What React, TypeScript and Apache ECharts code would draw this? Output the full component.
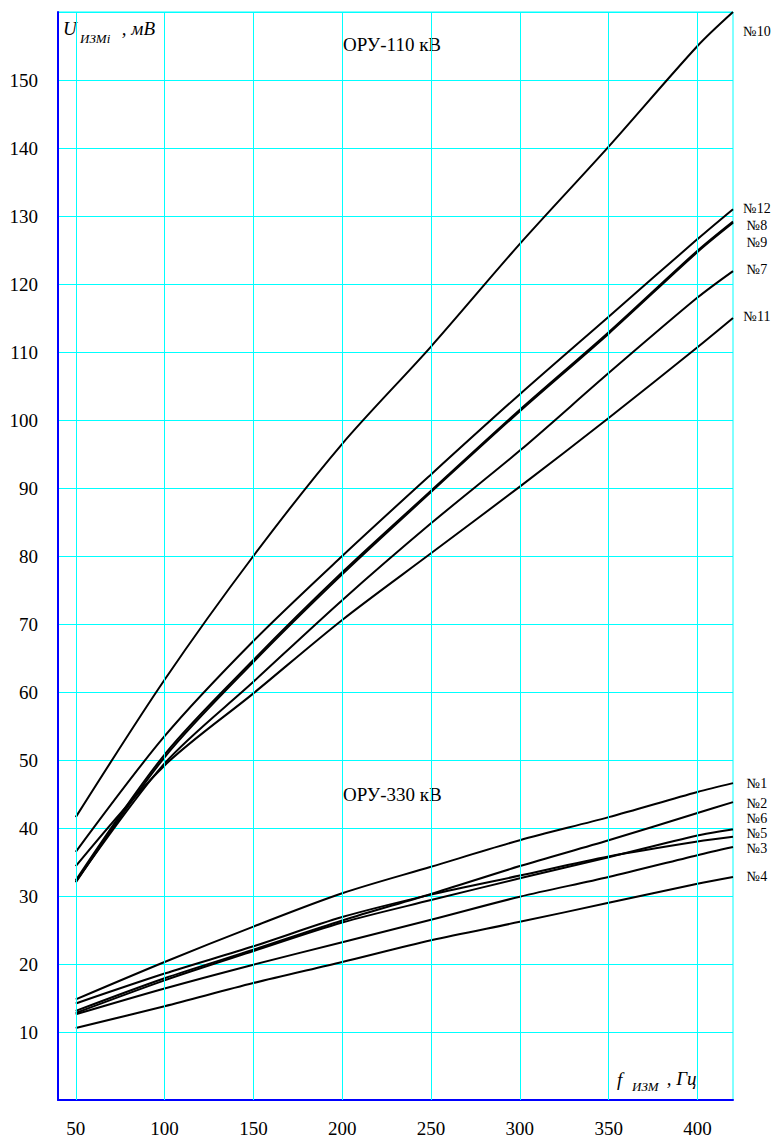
import React, { useEffect, useRef } from "react";
import * as echarts from "echarts";

// Frequency points (Hz)
const freq = [50, 100, 150, 200, 250, 300, 350, 400, 420];

// ОРУ-110 кВ curves (mV)
const u10 = [41.6, 61.8, 80.0, 96.5, 110.8, 125.9, 140.2, 155.0, 160.0];
const u12 = [36.5, 53.5, 67.5, 80.0, 92.0, 103.8, 115.2, 126.6, 131.0];
const u8 = [32.3, 50.8, 64.7, 77.6, 89.6, 101.5, 112.9, 124.9, 129.2];
const u9 = [32.0, 50.4, 64.4, 77.3, 89.4, 101.3, 112.7, 124.7, 129.0];
const u7 = [32.1, 49.5, 61.5, 73.5, 84.8, 95.5, 106.9, 118.0, 121.9];
const u11 = [34.4, 49.2, 59.8, 70.6, 80.4, 90.2, 100.3, 110.7, 115.0];

// ОРУ-330 кВ curves (mV)
const u1 = [14.8, 20.3, 25.5, 30.4, 34.3, 38.2, 41.6, 45.3, 46.6];
const u2 = [13.1, 17.9, 22.1, 26.4, 30.3, 34.4, 38.2, 42.2, 43.8];
const u5 = [14.2, 18.6, 22.6, 26.9, 30.2, 33.0, 35.8, 38.0, 38.7];
const u6 = [12.8, 17.6, 21.9, 26.1, 29.4, 32.6, 35.7, 38.9, 39.8];
const u3 = [12.6, 16.4, 19.9, 23.2, 26.5, 29.9, 32.8, 36.0, 37.2];
const u4 = [10.6, 13.8, 17.2, 20.3, 23.5, 26.2, 29.0, 31.8, 32.8];

const curveNames = ["№10", "№12", "№8", "№9", "№7", "№11", "№1", "№2", "№5", "№6", "№3", "№4"];
const curveValues = [u10, u12, u8, u9, u7, u11, u1, u2, u5, u6, u3, u4];

// Axis tick labels
const xTickLabels = [50, 100, 150, 200, 250, 300, 350, 400];
const yTickLabels = [10, 20, 30, 40, 50, 60, 70, 80, 90, 100, 110, 120, 130, 140, 150];

// Right-side curve labels (label text, vertical pixel position)
const endLabels = ["№10", "№12", "№8", "№9", "№7", "№11", "№1", "№2", "№6", "№5", "№3", "№4"];
const endLabelY = [31, 208, 225, 242, 269, 316, 783, 803, 818, 833, 848, 876];

const SERIF = "Liberation Serif";

export default function App() {
  const ref = useRef<HTMLDivElement>(null);

  useEffect(() => {
    const chart = echarts.init(ref.current!, null, { renderer: "svg" });

    const lineSeries = curveNames.map((name, k) => ({
      name,
      type: "line",
      data: freq.map((f, i) => [f, curveValues[k][i]]),
      showSymbol: false,
      symbol: "none",
      smooth: 0.3,
      lineStyle: { color: "#000", width: 2 },
      emphasis: { disabled: true },
      silent: true,
      z: 3,
    }));

    const gridSeries = {
      name: "vgrid",
      type: "line",
      data: [],
      silent: true,
      z: 1,
      markLine: {
        silent: true,
        symbol: ["none", "none"],
        label: { show: false },
        lineStyle: { color: "#00ffff", width: 1, type: "solid" },
        emphasis: { disabled: true },
        data: xTickLabels.map((v) => ({ xAxis: v })),
      },
    };

    const txt = (x: number, y: number, text: string, size: number, italic: boolean, align = "left") => ({
      type: "text",
      x,
      y,
      silent: true,
      style: {
        text,
        fontFamily: SERIF,
        fontSize: size,
        fontStyle: italic ? "italic" : "normal",
        fill: "#000",
        align,
        verticalAlign: "middle",
      },
    });

    const graphics: any[] = [
      // Y axis title
      txt(63, 28, "U", 19, true),
      txt(80, 38, "ИЗМi", 13, true),
      txt(117, 28, " , мВ", 19, true),
      // X axis title
      txt(617, 1079, "f", 19, true),
      txt(632, 1086, "ИЗМ", 13, true),
      txt(662, 1078, " , Гц", 19, true),
      // Group captions
      txt(343, 44, "ОРУ-110 кВ", 19, false),
      txt(343, 794, "ОРУ-330 кВ", 19, false),
    ];
    endLabels.forEach((t, i) => {
      graphics.push(txt(757, endLabelY[i], t, 14, false, "center"));
    });

    chart.setOption({
      animation: false,
      backgroundColor: "#fff",
      grid: {
        left: 58,
        right: 40,
        top: 12,
        bottom: 39,
        show: true,
        borderColor: "#00ffff",
        borderWidth: 1,
        backgroundColor: "transparent",
      },
      xAxis: {
        type: "value",
        min: 40,
        max: 420,
        interval: 10,
        axisLine: { show: true, lineStyle: { color: "#0000ff", width: 2 } },
        axisTick: { show: false },
        splitLine: { show: false },
        axisLabel: {
          margin: 19,
          fontFamily: SERIF,
          fontSize: 19,
          color: "#000",
          formatter: (v: number) => (xTickLabels.indexOf(v) >= 0 ? String(v) : ""),
        },
      },
      yAxis: {
        type: "value",
        min: 0,
        max: 160,
        interval: 10,
        axisLine: { show: true, lineStyle: { color: "#0000ff", width: 2 } },
        axisTick: { show: false },
        splitLine: { show: true, lineStyle: { color: "#00ffff", width: 1 } },
        axisLabel: {
          margin: 20,
          fontFamily: SERIF,
          fontSize: 19,
          color: "#000",
          formatter: (v: number) => (yTickLabels.indexOf(v) >= 0 ? String(v) : ""),
        },
      },
      series: [gridSeries, ...lineSeries],
      graphic: graphics,
    });

    return () => chart.dispose();
  }, []);

  return (
    <div
      ref={ref}
      style={{ position: "absolute", left: 0, top: 0, width: 773, height: 1139, background: "#fff" }}
    />
  );
}
